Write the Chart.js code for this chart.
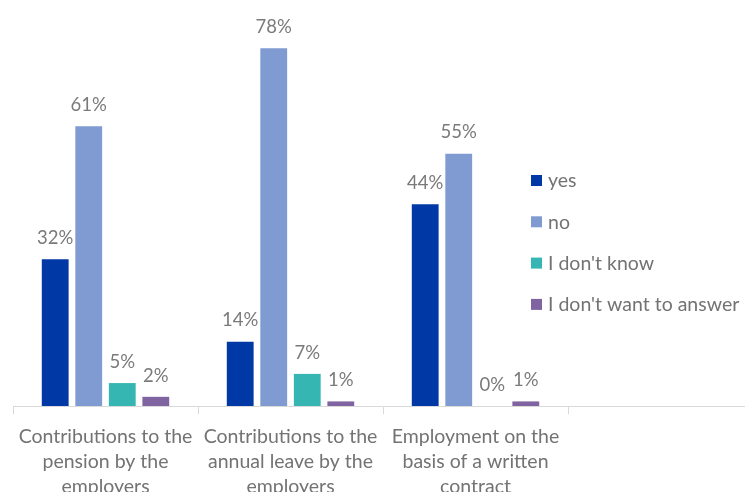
<!DOCTYPE html>
<html>
<head>
<meta charset="utf-8">
<script src="https://cdn.jsdelivr.net/npm/chart.js@4/dist/chart.umd.min.js"></script>
<style>
  html, body { margin: 0; padding: 0; background: #fff; overflow: hidden; }
  #wrap { position: relative; width: 753px; height: 492px; }
</style>
</head>
<body>
<div id="wrap"><canvas id="grafico"></canvas></div>
<script>
const categorias = [
  ['Contributions to the', 'pension by the', 'employers'],
  ['Contributions to the', 'annual leave by the', 'employers'],
  ['Employment on the', 'basis of a written', 'contract'],
  ''
];
const respuestas = ['yes', 'no', "I don't know", "I don't want to answer"];
const colores = ['#0039A6', '#7F9BD2', '#36B6B3', '#8064A2'];

const valoresSi = [32, 14, 44, null];
const valoresNo = [61, 78, 55, null];
const valoresNoSe = [5, 7, 0, null];
const valoresNoResp = [2, 1, 1, null];

const series = [valoresSi, valoresNo, valoresNoSe, valoresNoResp];

const FUENTE = 'Lato, "Open Sans", sans-serif';
const GRIS = '#7a7a7a';

// etiquetas de porcentaje encima de cada barra
const etiquetas = {
  id: 'etiquetas',
  afterDatasetsDraw(chart) {
    const ctx = chart.ctx;
    ctx.save();
    ctx.font = '18.5px ' + FUENTE;
    ctx.fillStyle = GRIS;
    ctx.textAlign = 'center';
    ctx.textBaseline = 'bottom';
    chart.data.datasets.forEach((ds, i) => {
      chart.getDatasetMeta(i).data.forEach((bar, j) => {
        if (ds.data[j] === null) return;
        ctx.fillText(ds.data[j] + '%', bar.x, bar.y - 12);
      });
    });
    ctx.restore();
  }
};

// leyenda dentro del area del grafico, a la derecha
const leyenda = {
  id: 'leyenda',
  afterDraw(chart) {
    const ctx = chart.ctx;
    ctx.save();
    ctx.font = '19.5px ' + FUENTE;
    ctx.textBaseline = 'middle';
    chart.data.datasets.forEach((ds, i) => {
      const y = 181 + i * 41.3;
      ctx.fillStyle = ds.backgroundColor;
      ctx.fillRect(531, y - 6, 11, 11);
      ctx.fillStyle = '#737373';
      ctx.fillText(ds.label, 548, y);
    });
    ctx.restore();
  }
};

new Chart(document.getElementById('grafico'), {
  type: 'bar',
  data: {
    labels: categorias,
    datasets: respuestas.map((r, i) => ({
      label: r,
      data: series[i],
      backgroundColor: colores[i],
      categoryPercentage: 0.725,
      barPercentage: 0.8
    }))
  },
  options: {
    responsive: true,
    maintainAspectRatio: false,
    animation: false,
    layout: { padding: { left: 13, right: 0, top: 0, bottom: 0 } },
    plugins: {
      legend: { display: false },
      tooltip: { enabled: false }
    },
    scales: {
      x: {
        afterFit(scale) { scale.height = 86; },
        grid: {
          offset: true,
          drawOnChartArea: false,
          tickLength: 8,
          color: '#d9d9d9',
          lineWidth: 1
        },
        border: { color: '#d9d9d9', width: 1 },
        ticks: {
          color: '#737373',
          font: { family: FUENTE, size: 19.5, lineHeight: 1.28 },
          padding: 10,
          maxRotation: 0,
          autoSkip: false
        }
      },
      y: {
        display: false,
        min: 0,
        max: 88.5
      }
    }
  },
  plugins: [etiquetas, leyenda]
});
</script>
</body>
</html>
